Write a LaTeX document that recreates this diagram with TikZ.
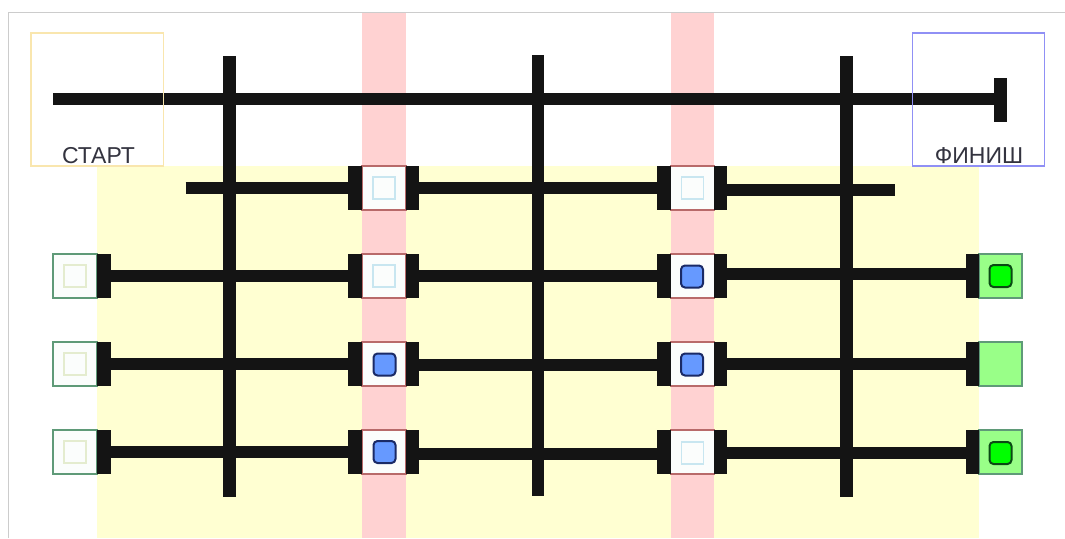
\documentclass[tikz,border=0pt]{standalone}
\usepackage{fontspec}
\setmainfont{Liberation Sans}
\definecolor{barblk}{HTML}{141414}
\tikzset{
  every node/.style={inner sep=0pt,outer sep=0pt},
  redcell/.style={draw=cellred,line width=1.2pt,fill=cellwhite,minimum width=44pt,minimum height=44pt},
  startcell/.style={draw=startgrn,line width=1.2pt,fill=cellwhite,minimum width=44pt,minimum height=44pt},
  fincell/.style={draw=startgrn,line width=1.2pt,fill=fingrn,minimum width=43pt,minimum height=44pt},
  capbar/.style={fill=barblk,minimum width=13.5pt,minimum height=44pt},
  wire/.style={draw=barblk,line width=12.5pt},
  idleb/.style={draw=idleblue,line width=1.1pt,fill=cellwhite,minimum width=22pt,minimum height=22pt},
  idleg/.style={draw=idlegrn,line width=1.1pt,fill=cellwhite,minimum width=22pt,minimum height=22pt},
  onb/.style={draw=navy,line width=2pt,fill=onblue,rounded corners=4pt,minimum width=22pt,minimum height=22pt},
  ong/.style={draw=dkgrn,line width=2pt,fill=green,rounded corners=4pt,minimum width=22pt,minimum height=22pt},
  zone/.style={line width=1.3pt,minimum width=132.5pt,minimum height=133pt},
  lbl/.style={font=\fontsize{23}{25}\selectfont,text=lbltxt,anchor=base}
}
\definecolor{cellred}{HTML}{B86A6A}
\definecolor{cellwhite}{HTML}{FBFDFC}
\definecolor{startgrn}{HTML}{5F9A78}
\definecolor{fingrn}{HTML}{99FF88}
\definecolor{idleblue}{HTML}{C8E6F0}
\definecolor{idlegrn}{HTML}{E4ECCF}
\definecolor{navy}{HTML}{1A2A66}
\definecolor{onblue}{HTML}{6699FF}
\definecolor{dkgrn}{HTML}{0A4A14}
\definecolor{lbltxt}{HTML}{33333F}
\definecolor{startyel}{HTML}{F9E6AE}
\definecolor{finblue}{HTML}{9090F5}
\definecolor{bgyel}{HTML}{FFFFD2}
\definecolor{bgred}{HTML}{FFD2D2}
\begin{document}
\begin{tikzpicture}[x=1pt,y=-1pt]
\useasboundingbox (0,0) rectangle (1065,538);
\fill[white] (0,0) rectangle (1065,538);
% backgrounds
\fill[bgyel] (97,166) rectangle (979,538);
\fill[bgred] (362,13) rectangle (406,538);
\fill[bgred] (671,13) rectangle (714,538);
\draw[black!20,line width=1.2pt] (8.5,538) -- (8.5,12.5) -- (1065,12.5);
% cells
\foreach \r/\y in {a/188,b/276,c/364,d/452}{
  \node[redcell] (m1\r) at (384,\y) {};
  \node[redcell] (m2\r) at (692.5,\y) {};
  \node[capbar] (l1\r) at (355,\y) {};
  \node[capbar] (r1\r) at (412.5,\y) {};
  \node[capbar] (l2\r) at (664,\y) {};
  \node[capbar] (r2\r) at (720.5,\y) {};
}
\foreach \r/\y in {b/276,c/364,d/452}{
  \node[startcell] (s\r) at (75,\y) {};
  \node[capbar] (sc\r) at (104,\y) {};
  \node[fincell] (f\r) at (1000.5,\y) {};
  \node[capbar] (fc\r) at (972.5,\y) {};
  \node[idleg] (is\r) at (75,\y) {};
}
\node[idleb] (i1a) at (384,188) {};
\node[idleb] (i2a) at (692.5,188) {};
\node[idleb] (i1b) at (384,276) {};
\node[onb] (i2b) at (692,276.5) {};
\node[onb] (i1c) at (384.5,364.5) {};
\node[onb] (i2c) at (692,364.5) {};
\node[onb] (i1d) at (384.5,452) {};
\node[idleb] (i2d) at (692.5,453) {};
\node[ong] (ifb) at (1000.5,276) {};
\node[ong] (ifd) at (1000.5,453) {};
% free ends
\coordinate (topstart) at (53,99);
\node[fill=barblk,minimum width=13pt,minimum height=44pt] (topcap) at (1000.5,100) {};
\coordinate (astart) at (185.5,188);
\coordinate (aend) at (895,190);
\coordinate (v1t) at (229.5,56);
\coordinate (v1b) at (229.5,497);
\coordinate (v2t) at (538,55);
\coordinate (v2b) at (538,496);
\coordinate (v3t) at (846.5,56);
\coordinate (v3b) at (846.5,497);
% connectors
\draw[wire] (topstart) -- (topstart -| topcap.west);
\draw[wire] (v1t) -- (v1b);
\draw[wire] (v2t) -- (v2b);
\draw[wire] (v3t) -- (v3b);
\draw[wire] (astart) -- (l1a.west);
\draw[wire] (r1a.east) -- (l2a.west);
\draw[wire] ([yshift=-2pt]r2a.east) -- (aend);
\draw[wire] (scb.east) -- (l1b.west);
\draw[wire] (r1b.east) -- (l2b.west);
\draw[wire] ([yshift=2pt]r2b.east) -- ([yshift=2pt]fcb.west);
\draw[wire] (scc.east) -- (l1c.west);
\draw[wire] ([yshift=-1pt]r1c.east) -- ([yshift=-1pt]l2c.west);
\draw[wire] (r2c.east) -- (fcc.west);
\draw[wire] (scd.east) -- (l1d.west);
\draw[wire] ([yshift=-2pt]r1d.east) -- ([yshift=-2pt]l2d.west);
\draw[wire] ([yshift=-1pt]r2d.east) -- ([yshift=-1pt]fcd.west);
% zones
\node[zone,draw=startyel] (startzone) at (97.2,99.5) {};
\node[zone,draw=finblue] (finzone) at (978.5,99.5) {};
\node[lbl] (startlbl) at (98.5,163) {СТАРТ};
\node[lbl] (finlbl) at (979,163) {ФИНИШ};
\end{tikzpicture}
\end{document}
